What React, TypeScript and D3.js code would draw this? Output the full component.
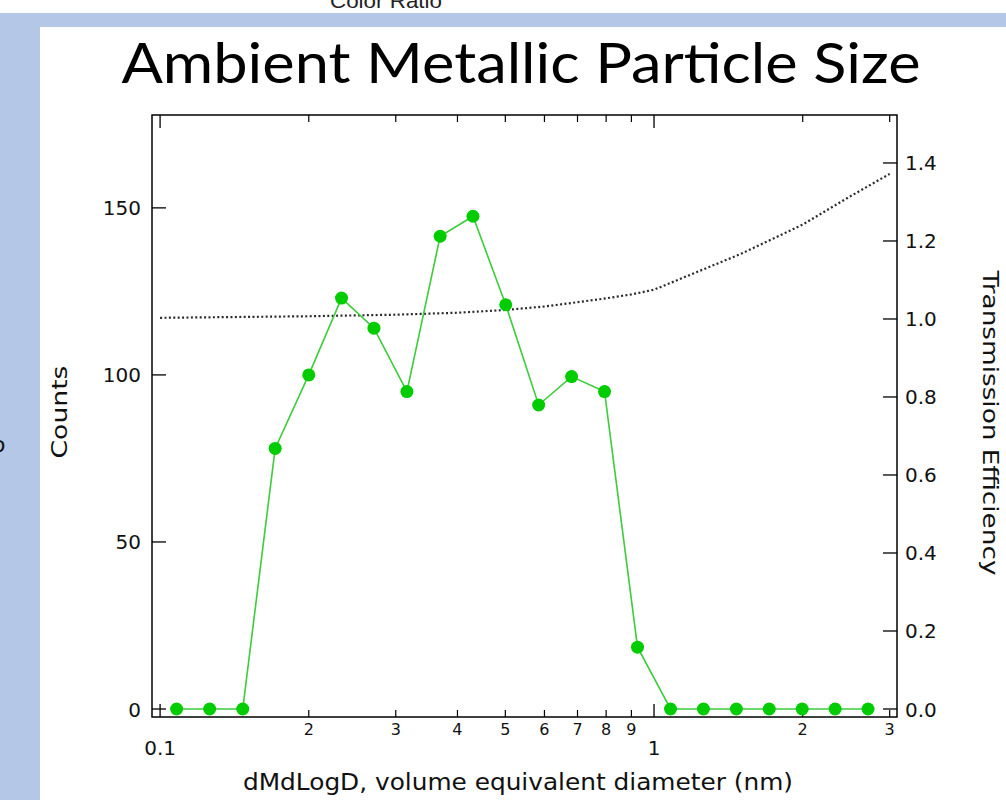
import React from "react";
import * as d3 from "d3";

// ---- data ----
const diameters = [0.108, 0.126, 0.147, 0.171, 0.2, 0.233, 0.271, 0.316, 0.369, 0.43, 0.501, 0.584, 0.681, 0.794, 0.926, 1.08, 1.259, 1.468, 1.711, 1.995, 2.326, 2.712];
const counts = [0, 0, 0, 78, 100, 123, 114, 95, 141.5, 147.5, 121, 91, 99.5, 95, 18.5, 0, 0, 0, 0, 0, 0, 0];
const transD = [0.1, 0.2, 0.3, 0.4, 0.5, 0.6, 0.7, 0.8, 0.9, 1.0, 1.5, 2.0, 2.5, 3.0];
const transEff = [1.003, 1.007, 1.011, 1.016, 1.023, 1.032, 1.043, 1.053, 1.063, 1.075, 1.167, 1.242, 1.315, 1.372];
const leftTicks = [0, 50, 100, 150];
const rightTicks = [0, 0.2, 0.4, 0.6, 0.8, 1.0, 1.2, 1.4];
const xMinorTicks = [0.2, 0.3, 0.4, 0.5, 0.6, 0.7, 0.8, 0.9, 2, 3];
const xMajorTicks = [0.1, 1];

const W = 1006, H = 800;
const F = { left: 152, right: 897, top: 115, bottom: 717 };

export default function App() {
  const x = d3.scaleLog().domain([0.0963, 3.104]).range([F.left, F.right]);
  const yL = d3.scaleLinear().domain([0, 177.8]).range([709, F.top]);
  const yR = d3.scaleLinear().domain([0, 1.523]).range([709, F.top]);

  const countLine = d3.line<number>().x((_, i) => x(diameters[i])).y((d) => yL(d))(counts) || "";
  const transLine = d3.line<number>().x((_, i) => x(transD[i])).y((d) => yR(d))(transEff) || "";

  const axisFont = "'DejaVu Sans', Verdana, sans-serif";
  const minorDigit = (v: number) => (v < 1 ? Math.round(v * 10) : v).toString();

  return (
    <svg width={W} height={H} style={{ position: "absolute", left: 0, top: 0, background: "#fff" }}>
      <rect x={0} y={0} width={W} height={H} fill="#ffffff" />
      {/* slide chrome */}
      <text x={386} y={8} textAnchor="middle" fontFamily="'Liberation Sans', Arial, sans-serif" fontSize={21} textLength={112} lengthAdjust="spacingAndGlyphs" fill="#222">Color Ratio</text>
      <rect x={0} y={13} width={W} height={14} fill="#b4c7e7" />
      <rect x={0} y={13} width={40} height={H - 13} fill="#b4c7e7" />
      <text x={-8} y={452} fontFamily={axisFont} fontSize={22} fill="#111">o</text>

      {/* title */}
      <text x={521} y={83} textAnchor="middle" fontFamily="Lato, 'Open Sans', sans-serif" fontSize={56} textLength={799} lengthAdjust="spacingAndGlyphs" fill="#000">Ambient Metallic Particle Size</text>

      {/* frame */}
      <rect x={F.left} y={F.top} width={F.right - F.left} height={F.bottom - F.top} fill="none" stroke="#000" strokeWidth={1.5} />

      {/* left ticks */}
      {leftTicks.map((t) => (
        <g key={"l" + t}>
          <line x1={F.left} x2={F.left + 14} y1={yL(t)} y2={yL(t)} stroke="#000" strokeWidth={1.3} />
          <text x={141} y={yL(t) + 7.5} textAnchor="end" fontFamily={axisFont} fontSize={20} fill="#111">{t}</text>
        </g>
      ))}
      {/* right ticks */}
      {rightTicks.map((t) => (
        <g key={"r" + t}>
          <line x1={F.right - 14} x2={F.right} y1={yR(t)} y2={yR(t)} stroke="#000" strokeWidth={1.3} />
          <text x={905} y={yR(t) + 7.5} textAnchor="start" fontFamily={axisFont} fontSize={20} fill="#111">{d3.format(".1f")(t)}</text>
        </g>
      ))}
      {/* x ticks bottom & top */}
      {xMinorTicks.map((t) => (
        <g key={"xm" + t}>
          <line x1={x(t)} x2={x(t)} y1={F.bottom} y2={F.bottom - 7} stroke="#000" strokeWidth={1.2} />
          <line x1={x(t)} x2={x(t)} y1={F.top} y2={F.top + 7} stroke="#000" strokeWidth={1.2} />
          <text x={x(t)} y={735} textAnchor="middle" fontFamily={axisFont} fontSize={16} fill="#111">{minorDigit(t)}</text>
        </g>
      ))}
      {xMajorTicks.map((t) => (
        <g key={"xM" + t}>
          <line x1={x(t)} x2={x(t)} y1={F.bottom} y2={F.bottom - 13} stroke="#000" strokeWidth={1.3} />
          <line x1={x(t)} x2={x(t)} y1={F.top} y2={F.top + 13} stroke="#000" strokeWidth={1.3} />
          <text x={x(t)} y={755} textAnchor="middle" fontFamily={axisFont} fontSize={20} fill="#111">{t}</text>
        </g>
      ))}

      {/* transmission efficiency (dotted) */}
      <path d={transLine} fill="none" stroke="#2a2a2a" strokeWidth={2.2} strokeDasharray="2 2.4" />

      {/* counts */}
      <path d={countLine} fill="none" stroke="#3ccc3c" strokeWidth={1.6} />
      {counts.map((c, i) => (
        <circle key={"c" + i} cx={x(diameters[i])} cy={yL(c)} r={6.5} fill="#00cc00" />
      ))}

      {/* axis titles */}
      <text transform="translate(67,412) rotate(-90)" textAnchor="middle" fontFamily={axisFont} fontSize={22} textLength={93} lengthAdjust="spacingAndGlyphs" fill="#111">Counts</text>
      <text transform="translate(983,423) rotate(90)" textAnchor="middle" fontFamily={axisFont} fontSize={22} textLength={305} lengthAdjust="spacingAndGlyphs" fill="#111">Transmission Efficiency</text>
      <text x={518} y={790} textAnchor="middle" fontFamily={axisFont} fontSize={23} textLength={550} lengthAdjust="spacingAndGlyphs" fill="#111">dMdLogD, volume equivalent diameter (nm)</text>
    </svg>
  );
}
